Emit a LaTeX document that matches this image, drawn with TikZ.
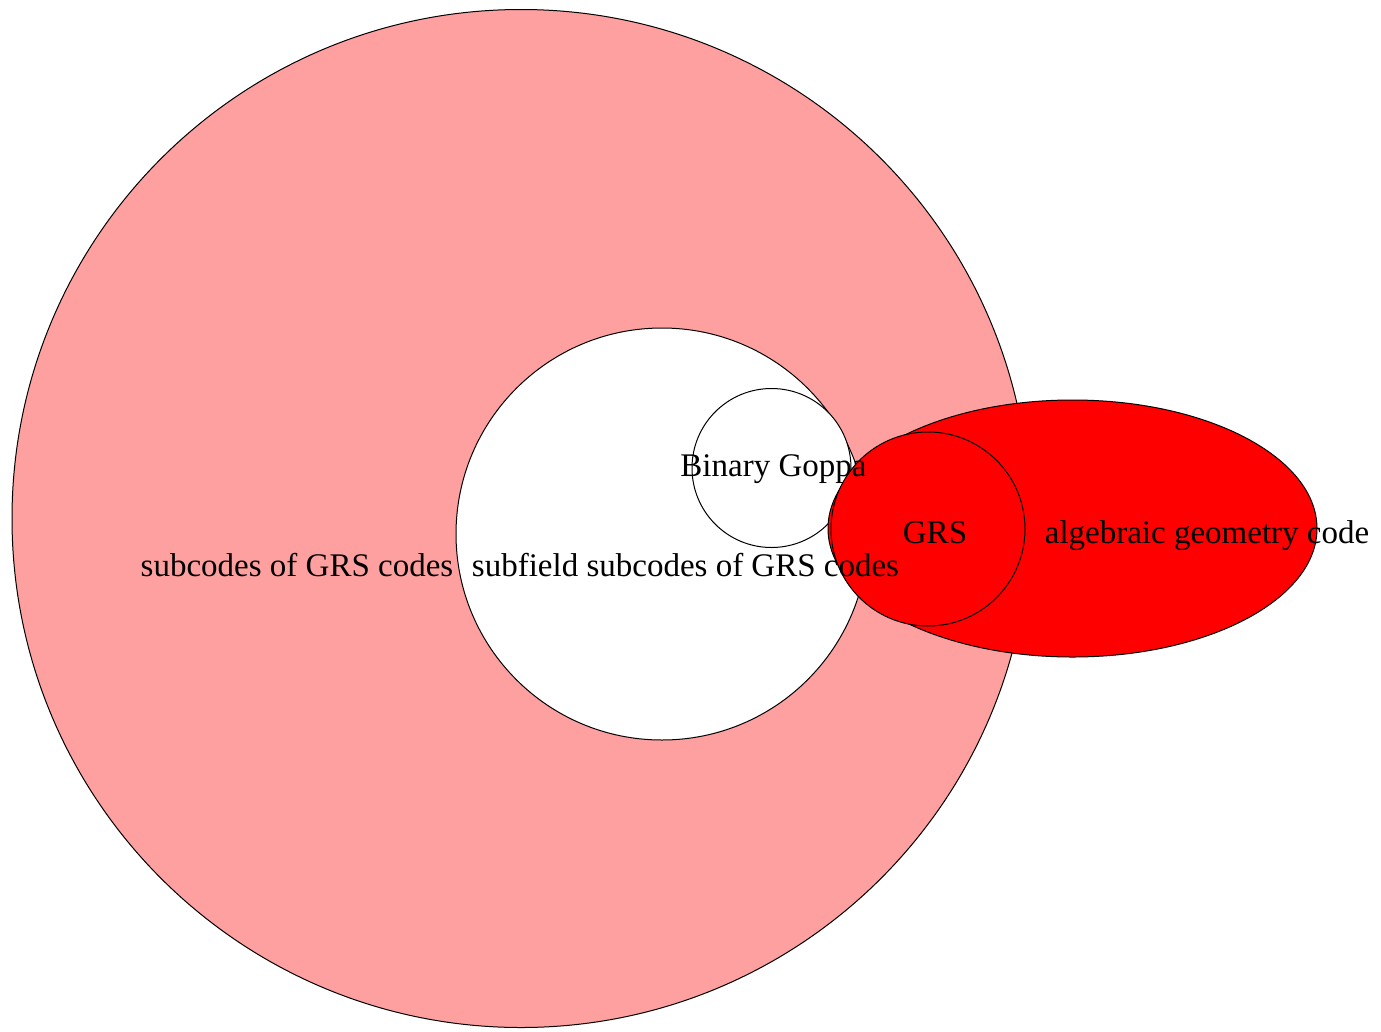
\documentclass[tikz,border=0pt]{standalone}
\usepackage{fontspec}
\setmainfont{Liberation Serif}
\usetikzlibrary{shapes.geometric}
\definecolor{pinkfill}{RGB}{255,160,160}
\begin{document}
\begin{tikzpicture}[x=1pt,y=-1pt,
  setshape/.style={draw=black,line width=1pt,inner sep=0pt,outer sep=0pt},
  lbl/.style={font=\fontsize{33}{36}\selectfont,anchor=base,inner sep=0pt,text=black}]
\useasboundingbox (0,0) rectangle (1381,1031);
\fill[white] (0,0) rectangle (1381,1031);
\node[setshape,circle,fill=pinkfill,minimum size=1018pt] (sub) at (521,518.5) {};
\node[setshape,circle,fill=white,minimum size=412pt] (subf) at (662,534) {};
\node[setshape,circle,fill=white,minimum size=159pt] (goppa) at (771.5,468) {};
\node[setshape,ellipse,fill=red,minimum width=489pt,minimum height=257pt] (ag) at (1072.5,528.5) {};
\node[setshape,circle,fill=red,minimum size=194pt] (grs) at (928,529) {};
\node[lbl] (tsub) at (297,576) {subcodes of GRS codes};
\node[lbl] (tsubf) at (685.5,576) {subfield subcodes of GRS codes};
\node[lbl] (tgoppa) at (773.5,476) {Binary Goppa};
\node[lbl] (tgrs) at (935,543) {GRS};
\node[lbl] (tag) at (1207,543) {algebraic geometry code};
\end{tikzpicture}
\end{document}
